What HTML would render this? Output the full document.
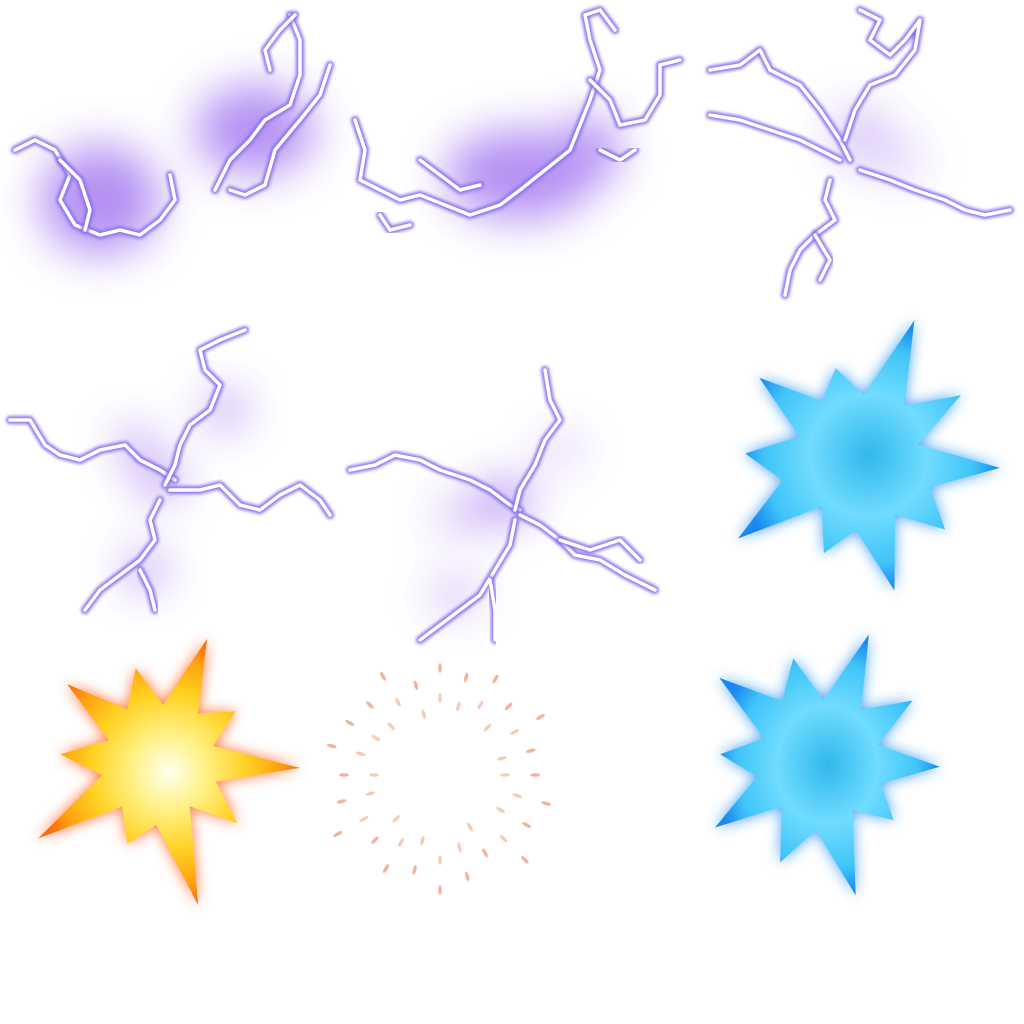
<!DOCTYPE html>
<html><head><meta charset="utf-8"><style>
html,body{margin:0;padding:0;background:#fff;width:1024px;height:1024px;overflow:hidden}
</style></head><body>
<svg id="sheet" width="1024" height="1024" viewBox="0 0 1024 1024" xmlns="http://www.w3.org/2000/svg">
<defs>
<filter id="blur30" x="-50%" y="-50%" width="200%" height="200%"><feGaussianBlur stdDeviation="22"/></filter>
<filter id="glow" x="-20%" y="-20%" width="140%" height="140%"><feGaussianBlur stdDeviation="1.5"/></filter>
<filter id="sglow" x="-30%" y="-30%" width="160%" height="160%"><feGaussianBlur stdDeviation="7"/></filter>
<radialGradient id="gy" cx="50%" cy="50%" r="50%"><stop offset="0" stop-color="#fffff0"/><stop offset="0.3" stop-color="#fff080"/><stop offset="0.6" stop-color="#ffd020"/><stop offset="0.85" stop-color="#ffa010"/><stop offset="1" stop-color="#ff6a10"/></radialGradient>
<radialGradient id="gb" cx="50%" cy="50%" r="50%"><stop offset="0" stop-color="#30b8ec"/><stop offset="0.45" stop-color="#70dcff"/><stop offset="0.8" stop-color="#40c4f8"/><stop offset="1" stop-color="#1a88f0"/></radialGradient>
</defs>
<rect width="1024" height="1024" fill="#fff"/>
<g id="blobs" filter="url(#blur30)" fill="#9b6cf0" opacity="0.75">
<ellipse cx="100" cy="200" rx="60" ry="55"/><ellipse cx="255" cy="130" rx="60" ry="45"/>
<ellipse cx="520" cy="175" rx="75" ry="45"/><ellipse cx="590" cy="150" rx="30" ry="35"/>
<ellipse cx="860" cy="135" rx="30" ry="30" opacity="0.5"/><ellipse cx="900" cy="160" rx="25" ry="20" opacity="0.4"/>
<ellipse cx="225" cy="410" rx="20" ry="18"/><ellipse cx="135" cy="445" rx="18" ry="16"/><ellipse cx="145" cy="570" rx="20" ry="18"/><ellipse cx="160" cy="480" rx="22" ry="18"/>
<ellipse cx="505" cy="500" rx="28" ry="20"/><ellipse cx="465" cy="515" rx="35" ry="18" opacity="0.5"/><ellipse cx="455" cy="595" rx="25" ry="18" opacity="0.6"/><ellipse cx="560" cy="450" rx="20" ry="18" opacity="0.5"/>
</g>
<g id="bolts" fill="none" stroke-linejoin="round" stroke-linecap="round"></g>
<g id="stars"></g>
<g id="sparks" fill="#f0a080"></g>
</svg>
<script>
const NS='http://www.w3.org/2000/svg';
const bolts=[
"M15,150 L35,140 L55,150 L70,175 L60,200 L75,225 L100,235 L120,230 L140,235 L160,220 L175,200 L170,175",
"M60,160 L80,180 L90,210 L85,230",
"M215,190 L230,160 L250,140 L265,120 L290,105 L300,75 L300,40 L290,15",
"M230,190 L245,195 L265,185 L275,150 L300,120 L320,95 L330,65",
"M270,70 L265,50 L280,30 L295,15",
"M355,120 L365,150 L360,180 L380,190 L400,200 L420,195 L445,205 L470,215 L500,205 L520,190 L545,170 L570,150 L580,125 L590,100 L600,70 L590,40 L585,15 L600,10 L615,30",
"M380,215 L390,230 L410,225",
"M420,160 L440,175 L460,190 L480,185",
"M590,80 L610,100 L620,125 L645,120 L660,95 L660,65 L680,60",
"M600,150 L620,160 L635,150",
"M710,70 L740,65 L760,50 L770,70 L800,85 L820,110 L840,140 L850,160",
"M710,115 L740,120 L770,130 L800,140 L820,150 L840,160",
"M860,10 L880,20 L870,40 L890,55 L905,40 L920,20 L915,50 L895,75 L870,85 L855,110 L845,140",
"M860,170 L890,180 L915,190 L945,200 L965,210 L985,215 L1010,210",
"M830,180 L825,200 L835,220 L815,235 L800,250 L790,270 L785,295",
"M815,235 L830,260 L820,280",
"M10,420 L30,420 L45,445 L60,455 L80,460 L100,450 L125,445 L140,460 L160,470 L175,480",
"M245,330 L220,340 L200,350 L205,370 L220,385 L210,410 L190,425 L180,445 L175,465 L165,485",
"M170,490 L200,490 L220,485 L240,505 L260,510 L280,495 L300,485 L320,500 L330,515",
"M160,500 L150,520 L155,540 L140,560 L120,575 L100,590 L85,610",
"M140,570 L150,590 L155,610",
"M350,470 L375,465 L395,455 L420,460 L440,470 L470,480 L490,490 L510,505 L520,510",
"M545,370 L550,400 L560,420 L545,440 L535,465 L520,490 L515,510",
"M520,515 L540,525 L560,540 L575,555 L600,560 L625,575 L655,590",
"M515,520 L510,545 L495,570 L480,595 L460,610 L440,625 L420,640",
"M490,580 L495,610 L495,640",
"M560,540 L590,550 L620,540 L640,560"
];
const bg=document.getElementById('bolts');
bolts.forEach((d,i)=>{
 const o=document.createElementNS(NS,'path');o.setAttribute('d',d);o.setAttribute('stroke','#8a70f0');o.setAttribute('stroke-width','8');o.setAttribute('filter','url(#glow)');
 
 
 bg.appendChild(o);
 const p=document.createElementNS(NS,'path');p.setAttribute('d',d);p.setAttribute('stroke','#fff');p.setAttribute('stroke-width','3.5');
 
 
 bg.appendChild(p);
});
const starDefs=[
 {cx:860,cy:460,r:[150,70,120,60,140,75,110,65,135,70,100,60,145,80,115,65,130,70,95,65],g:'url(#gb)',edge:'#1a8cf0',name:'blue-burst-top'},
 {cx:160,cy:760,r:[130,60,90,55,140,60,100,55,150,65,90,60,145,60,100,55,120,60,95,55],g:'url(#gy)',edge:'#ff5010',name:'yellow-burst'},
 {cx:820,cy:760,r:[135,65,110,60,120,65,95,60,140,70,110,60,125,65,100,60,130,70,105,60],g:'url(#gb)',edge:'#1a8cf0',name:'blue-burst-bottom'}
];
const sg=document.getElementById('stars');
starDefs.forEach(s=>{
 const n=s.r.length;let pts=[];
 s.r.forEach((r,i)=>{const a=i/n*Math.PI*2-1.2;pts.push((s.cx+r*Math.cos(a)).toFixed(1)+','+(s.cy+r*Math.sin(a)).toFixed(1));});
 const g=document.createElementNS(NS,'polygon');g.setAttribute('points',pts.join(' '));g.setAttribute('fill',s.edge);g.setAttribute('filter','url(#sglow)');g.setAttribute('opacity','0.8');
 
 
 sg.appendChild(g);
 const p=document.createElementNS(NS,'polygon');p.setAttribute('points',pts.join(' '));p.setAttribute('fill',s.g);
 
 
 sg.appendChild(p);
});
const sp=document.getElementById('sparks');
const ringR=[95,110,100,120,90,105,115,98,108,92,118,102,96,112,104,99,114,93,107,101,111,97,116,94];
ringR.forEach((r,i)=>{
 const a=i/ringR.length*Math.PI*2;
 for(let k=0;k<2;k++){
  const rr=r-k*30;
  const e=document.createElementNS(NS,'ellipse');
  e.setAttribute('cx',(440+rr*Math.cos(a)).toFixed(1));e.setAttribute('cy',(775+rr*Math.sin(a)).toFixed(1));
  e.setAttribute('rx','5');e.setAttribute('ry','1.8');e.setAttribute('opacity',k?0.55:0.8);
  e.setAttribute('transform','rotate('+(a*180/Math.PI).toFixed(1)+' '+(440+rr*Math.cos(a)).toFixed(1)+' '+(775+rr*Math.sin(a)).toFixed(1)+')');
  
  
  sp.appendChild(e);
 }
});
</script>
</body></html>
